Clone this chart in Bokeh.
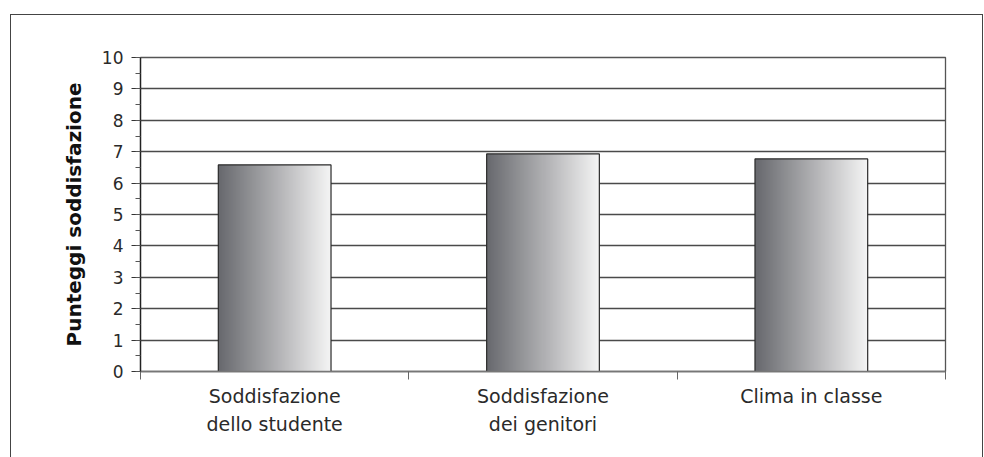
import numpy as np
from bokeh.plotting import figure
from bokeh.models import Range1d, FixedTicker, SingleIntervalTicker, InlineStyleSheet
from bokeh.embed import file_html
from bokeh.resources import INLINE

categories = ["Soddisfazione\ndello studente", "Soddisfazione\ndei genitori", "Clima in classe"]
values = [6.58, 6.93, 6.77]
y_ticks = list(range(0, 11))
y_label = "Punteggi soddisfazione"

W, H = 984, 457
p = figure(width=W, height=H, output_backend="svg", toolbar_location=None,
           x_range=Range1d(0, len(categories)), y_range=Range1d(0, 10),
           min_border_left=140, min_border_right=39, min_border_top=57, min_border_bottom=86)
p.frame_width = 805
p.frame_height = 314

# gradient bars via image_rgba
ncol = 256
t = np.linspace(0, 1, ncol)
c0 = np.array([104, 105, 110])
c1 = np.array([246, 246, 246])
img = np.zeros((1, ncol), dtype=np.uint32)
view = img.view(dtype=np.uint8).reshape((1, ncol, 4))
for i in range(ncol):
    c = c0 + (c1 - c0) * t[i]
    view[0, i, 0] = int(c[0]); view[0, i, 1] = int(c[1]); view[0, i, 2] = int(c[2]); view[0, i, 3] = 255

bw = 0.42
xs = [i + 0.5 for i in range(len(categories))]
for x, v in zip(xs, values):
    p.image_rgba(image=[img], x=x - bw / 2, y=0, dw=bw, dh=v)
p.vbar(x=xs, top=values, width=bw, fill_alpha=0, line_color="#2a2a2a", line_width=1.2)

FONT = "DejaVu Sans"

# axes
p.xaxis.ticker = FixedTicker(ticks=xs, minor_ticks=list(range(len(categories) + 1)))
p.xaxis.major_label_overrides = {x: c for x, c in zip(xs, categories)}
p.xaxis.major_tick_out = 0
p.xaxis.major_tick_in = 0
p.xaxis.major_tick_line_color = None
p.xaxis.minor_tick_out = 8
p.xaxis.minor_tick_in = 0
p.xaxis.minor_tick_line_color = "#666666"
p.xaxis.axis_line_color = "#777777"
p.xaxis.axis_line_width = 1.3
p.xaxis.major_label_standoff = 5
p.xaxis.major_label_text_font = FONT
p.xaxis.major_label_text_font_size = "19px"
p.xaxis.major_label_text_line_height = 1.3
p.xaxis.major_label_text_color = "#2a2a2a"

p.yaxis.ticker = SingleIntervalTicker(interval=1, num_minor_ticks=2)
p.yaxis.major_tick_out = 9
p.yaxis.major_tick_in = 0
p.yaxis.minor_tick_out = 5
p.yaxis.minor_tick_in = 0
p.yaxis.major_tick_line_color = "#333333"
p.yaxis.minor_tick_line_color = "#555555"
p.yaxis.axis_line_color = "#222222"
p.yaxis.axis_line_width = 1.3
p.yaxis.major_label_standoff = 8
p.yaxis.major_label_text_font = FONT
p.yaxis.major_label_text_font_size = "17px"
p.yaxis.major_label_text_color = "#2a2a2a"
p.yaxis.axis_label = y_label
p.yaxis.axis_label_text_font = FONT
p.yaxis.axis_label_text_font_style = "bold"
p.yaxis.axis_label_text_font_size = "20px"
p.yaxis.axis_label_text_color = "#111111"
p.yaxis.axis_label_standoff = 13

p.xgrid.visible = False
p.ygrid.ticker = FixedTicker(ticks=y_ticks)
p.ygrid.grid_line_color = "#4a4a4a"
p.ygrid.grid_line_width = 1.3
p.outline_line_color = "#555555"
p.outline_line_width = 1.3
p.background_fill_color = "white"
p.border_fill_color = "white"

# outer frame of the figure (open at the bottom)
p.stylesheets = [InlineStyleSheet(css="""
:host { position: relative; }
:host::after {
  content: ""; position: absolute; left: 10px; top: 14px; right: 1px; bottom: 0px;
  border-left: 1.5px solid #444; border-top: 1.5px solid #444; border-right: 1.5px solid #444;
  pointer-events: none;
}
""")]

open("out.html", "w").write(file_html(p, INLINE))
